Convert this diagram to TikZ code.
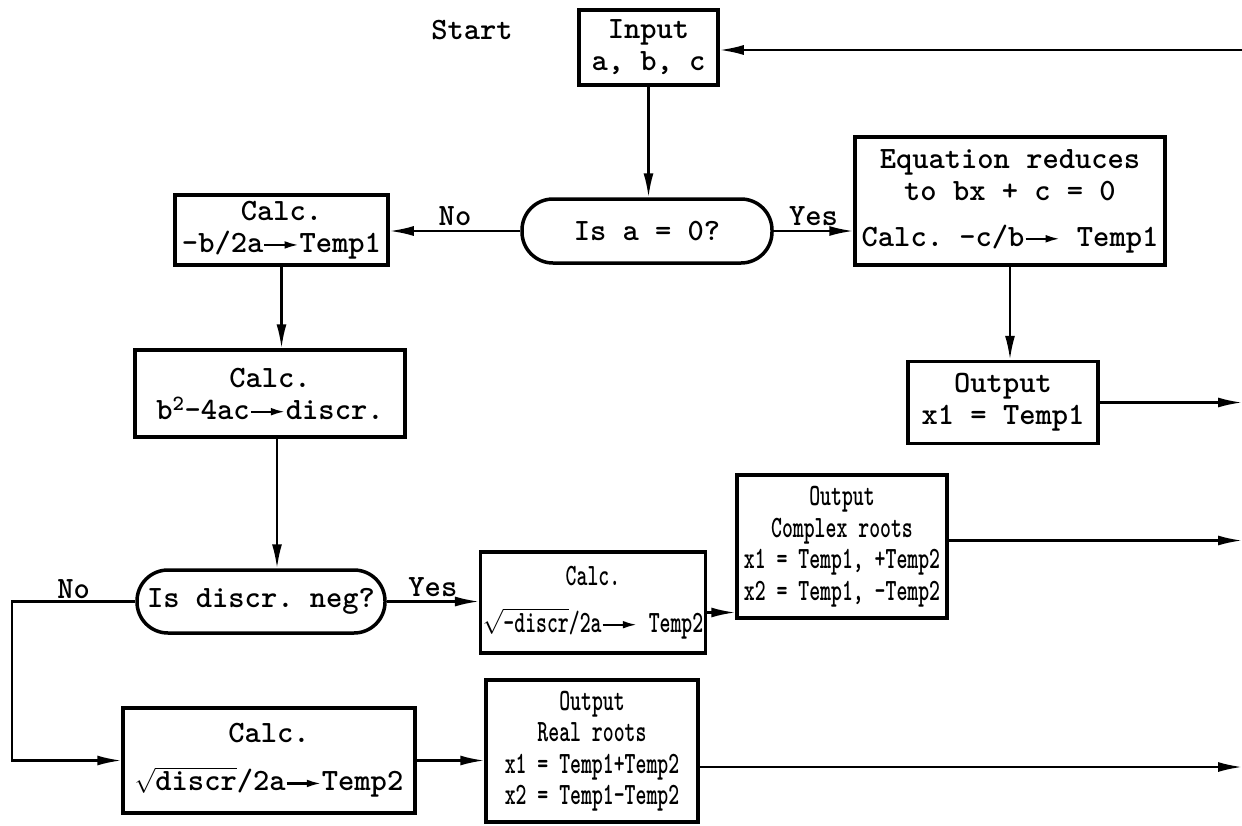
\documentclass[tikz,border=0pt]{standalone}
\usepackage{fontspec}
\setmonofont{lmmonolt10-bold.otf}
\newfontfamily\slimtt[FakeStretch=0.67]{lmmonolt10-bold.otf}
\usetikzlibrary{positioning, quotes, arrows.meta}
\newcommand{\gives}{\tikz[baseline=-0.55ex]\draw[line width=0.07em,-{Latex[length=0.45em,width=0.25em]}] (0,0) -- (1.1em,0);}

\begin{document}
\begin{tikzpicture}[x=1pt, y=-1pt,
                    every node/.style = {text=black, align=center, inner sep=2pt, font=\fontsize{31}{32}\selectfont\ttfamily},
                    box/.style = {draw, line width=3.5pt},
                    ask/.style = {draw, line width=3.5pt, rounded corners=31pt},
                    slim/.style = {font=\fontsize{31}{31.5}\selectfont\slimtt},
                    link/.style = {draw, line width=2.2pt, -{Latex[length=24pt,width=10pt]}},
                    every edge/.style = {link},
                    every edge quotes/.style = {auto, inner sep=4pt}]
                \useasboundingbox (0,0) rectangle (1242,825);
                \coordinate (rim) at (1242,0);
                \coordinate (nobend) at (12,0);
                \coordinate (inback) at (1242,50);
                \node (start) at (472,30) {Start};
                \node (input) [box, minimum width=139pt, minimum height=75pt] at (648.5,47.5) {Input\\a, b, c};
                \node (isa) [ask, minimum width=250pt, minimum height=64pt] at (647,231) {Is a = 0?};
                \node (calc1) [box, minimum width=213pt, minimum height=70pt] at (281.5,230) {Calc.\\-b/2a\gives Temp1};
                \node (eq) [box, minimum width=310pt, minimum height=128pt] at (1010,201) {Equation reduces\\to bx + c = 0\\[14pt]Calc. -c/b\gives{} Temp1};
                \node (out1) [box, minimum width=190pt, minimum height=82pt, below = 93pt of eq, xshift=-7pt] {Output\\x1 = Temp1};
                \node (calc2) [box, minimum width=270pt, minimum height=87pt] at (270,393.5) {Calc.\\b\textsuperscript{2}-4ac\gives discr.};
                \node (isdisc) [ask, minimum width=248pt, minimum height=63pt] at (261,601.5) {Is discr. neg?};
                \node (calc3) [box, slim, minimum width=214pt, minimum height=101pt] at (593,602.5) {Calc.\\[15pt]$\sqrt{\mbox{-discr}}$/2a\gives{} Temp2};
                \node (cplx) [box, slim, minimum width=210pt, minimum height=143pt] at (842,546.5) {Output\\Complex roots\\x1 = Temp1, +Temp2\\x2 = Temp1, -Temp2};
                \node (calc4) [box, minimum width=292pt, minimum height=105pt] at (269,760.5) {Calc.\\[16pt]$\sqrt{\mbox{discr}}$/2a\gives Temp2};
                \node (realout) [box, slim, minimum width=212pt, minimum height=142pt] at (592,751) {Output\\Real roots\\x1 = Temp1+Temp2\\x2 = Temp1-Temp2};
                \draw (inback) edge (inback -| input.east);
                \draw (input.south) edge (input.south |- isa.north);
                \draw (isa.west) edge["No"'] (isa.west -| calc1.east);
                \draw (isa.east) edge["Yes"] (isa.east -| eq.west);
                \draw (eq.south) edge (eq.south |- out1.north);
                \draw (out1.east) edge (out1.east -| rim);
                \draw (calc1.south) edge (calc1.south |- calc2.north);
                \draw ([xshift=7pt]calc2.south) edge ([xshift=7pt]calc2.south |- isdisc.north);
                \draw (isdisc.east) edge["Yes"] (isdisc.east -| calc3.west);
                \draw [link] (isdisc.west) -- node[above]{No} (isdisc.west -| nobend) |- (calc4.west);
                \draw ([yshift=-10pt]calc3.east) edge ([yshift=-10pt]calc3.east -| cplx.west);
                \draw ([yshift=6pt]cplx.east) edge ([yshift=6pt]cplx.east -| rim);
                \draw (calc4.east) edge (calc4.east -| realout.west);
                \draw ([yshift=-16pt]realout.east) edge ([yshift=-16pt]realout.east -| rim);
            \end{tikzpicture}
\end{document}
